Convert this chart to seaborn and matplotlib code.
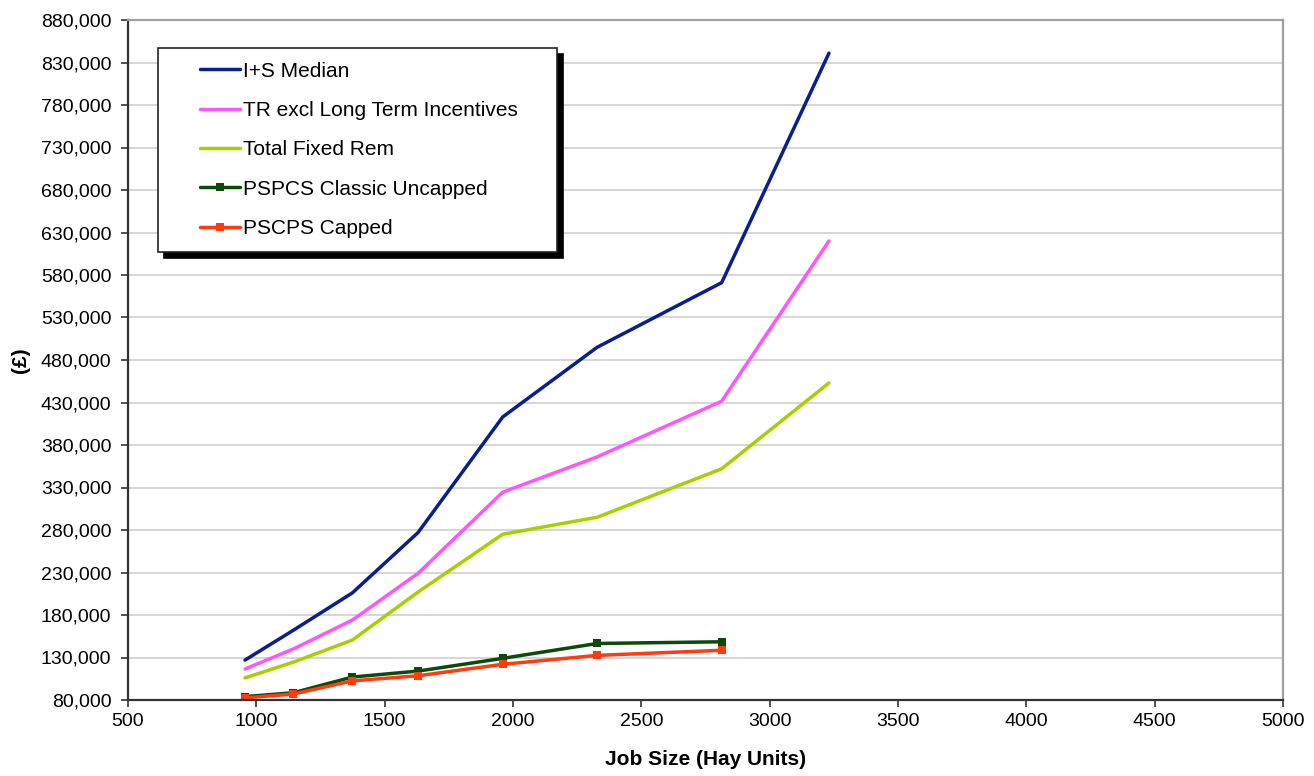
import numpy as np
import pandas as pd
import matplotlib
matplotlib.use("Agg")
import matplotlib.pyplot as plt
import matplotlib.ticker as mticker
from matplotlib.legend_handler import HandlerLine2D
import seaborn as sns

## Data
job_size = [956, 1144, 1374, 1630, 1960, 2328, 2813, 3231]
is_median = [127000, 162000, 206000, 277000, 413000, 495000, 571000, 841000]
tr_excl_lti = [116500, 140000, 174000, 229000, 324500, 366000, 431500, 620000]
total_fixed = [106000, 124500, 150500, 207000, 275000, 295000, 352000, 453000]

job_size_pen = [956, 1144, 1374, 1630, 1960, 2328, 2813]
pspcs_uncapped = [84000, 88500, 107000, 114000, 129000, 146500, 148500]
pscps_capped = [82500, 87000, 102500, 108500, 122000, 132500, 138500]

series = [
    ("I+S Median", job_size, is_median, "#0a1f8f", None),
    ("TR excl Long Term Incentives", job_size, tr_excl_lti, "#ff55ff", None),
    ("Total Fixed Rem", job_size, total_fixed, "#a8cf00", None),
    ("PSPCS Classic Uncapped", job_size_pen, pspcs_uncapped, "#0b4a0b", "s"),
    ("PSCPS Capped", job_size_pen, pscps_capped, "#ff3b0f", "s"),
]


# legend handle pushed to the right inside its slot
class ShiftedLine(HandlerLine2D):
    def __init__(self, shift, **kw):
        super().__init__(**kw)
        self.shift = shift

    def create_artists(self, legend, orig_handle, xdescent, ydescent,
                       width, height, fontsize, trans):
        return super().create_artists(legend, orig_handle, xdescent - self.shift,
                                      ydescent, width - self.shift, height,
                                      fontsize, trans)


## Plot
sns.set_style("white")
plt.rcParams['font.family'] = ['Liberation Sans', 'DejaVu Sans']
plt.rcParams['text.color'] = 'black'
plt.rcParams['axes.labelcolor'] = 'black'
plt.rcParams['xtick.color'] = 'black'
plt.rcParams['ytick.color'] = 'black'

W, H = 1314, 776
L, R, T, B = 128, 1283, 20, 700
fig = plt.figure(figsize=(W / 100, H / 100), dpi=100)
ax = fig.add_axes([L / W, 1 - B / H, (R - L) / W, (B - T) / H])

for name, x, y, col, mk in series:
    df = pd.DataFrame({"x": x, "y": y})
    sns.lineplot(data=df, x="x", y="y", ax=ax, color=col, linewidth=2.5,
                 marker=mk, markersize=6, markeredgewidth=0, label=name)

ax.set_xlim(500, 5000)
ax.set_ylim(80000, 880000)
ax.set_xticks(np.arange(500, 5001, 500))
ax.set_yticks(np.arange(80000, 880001, 50000))
ax.yaxis.set_major_formatter(mticker.FuncFormatter(lambda v, p: f"{int(v):,}"))
ax.tick_params(axis="both", labelsize=14, direction="out", length=5, width=1.2,
               color="#333333", labelcolor="black", left=True, bottom=True)
ax.tick_params(axis="x", pad=4.5)
ax.tick_params(axis="y", pad=7)
ax.grid(axis="y", color="#d0d0d0", linewidth=1.2)
ax.grid(axis="x", visible=False)
for s in ["left", "bottom"]:
    ax.spines[s].set_color("#333333")
    ax.spines[s].set_linewidth(1.6)
for s in ["top", "right"]:
    ax.spines[s].set_color("#a0a0a0")
    ax.spines[s].set_linewidth(1.6)

ax.set_xlabel("Job Size (Hay Units)", fontsize=15, fontweight="bold", labelpad=14)
ax.set_ylabel("(£)", fontsize=15, fontweight="bold", labelpad=8)

# legend box: px 158..557 wide, top at 48
fs = 15
bp = 0.65
pad_px = bp * fs * 100 / 72
hl = (240 - (158 + pad_px)) / (fs * 100 / 72)
shift = (200 - (158 + pad_px)) * 72 / 100
handles, labels = ax.get_legend_handles_labels()
leg = ax.legend(handles, labels, loc="upper left",
                bbox_to_anchor=((158 - L) / (R - L), 0.3, (557 - 158) / (R - L), 1 - (48 - T) / (B - T) - 0.3),
                mode="expand", fontsize=fs, frameon=True, fancybox=False,
                handlelength=hl, labelspacing=0.98, borderpad=bp,
                handletextpad=0.15, borderaxespad=0,
                handler_map={h: ShiftedLine(shift) for h in handles},
                shadow={"color": "black", "alpha": 1, "ox": 4.5, "oy": -4.5})
leg.get_frame().set_edgecolor("#222222")
leg.get_frame().set_linewidth(1.2)
leg.get_frame().set_alpha(1)

fig.savefig("out.png", dpi=100)
